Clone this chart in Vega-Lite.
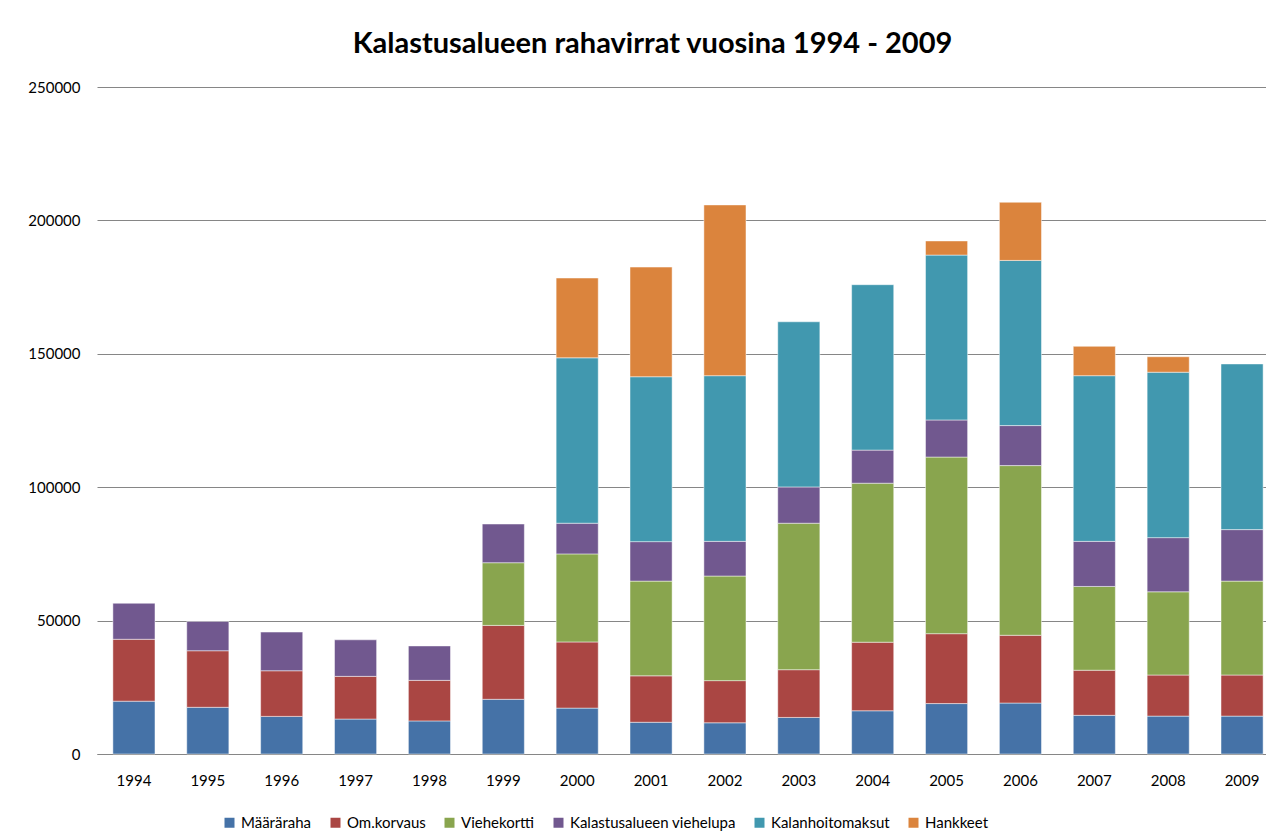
{
  "$schema": "https://vega.github.io/schema/vega-lite/v6.json",
  "autosize": {"type": "none"},
  "padding": {"left": 97, "top": 87, "right": 0, "bottom": 80},
  "width": 1169,
  "height": 667,
  "background": "white",
  "config": {
    "font": "Lato",
    "view": {"stroke": null}
  },
  "title": {
    "text": "Kalastusalueen rahavirrat vuosina 1994 - 2009",
    "fontSize": 29,
    "fontWeight": "bold",
    "font": "Lato",
    "color": "#000000",
    "anchor": "middle",
    "dx": -29,
    "offset": 21
  },
  "data": {
    "values": [
      {"year": "1994", "series": "Määräraha", "n": 1, "value": 19800},
      {"year": "1994", "series": "Om.korvaus", "n": 2, "value": 23200},
      {"year": "1994", "series": "Kalastusalueen viehelupa", "n": 4, "value": 13500},
      {"year": "1995", "series": "Määräraha", "n": 1, "value": 17500},
      {"year": "1995", "series": "Om.korvaus", "n": 2, "value": 21200},
      {"year": "1995", "series": "Kalastusalueen viehelupa", "n": 4, "value": 11000},
      {"year": "1996", "series": "Määräraha", "n": 1, "value": 14100},
      {"year": "1996", "series": "Om.korvaus", "n": 2, "value": 17100},
      {"year": "1996", "series": "Kalastusalueen viehelupa", "n": 4, "value": 14500},
      {"year": "1997", "series": "Määräraha", "n": 1, "value": 13100},
      {"year": "1997", "series": "Om.korvaus", "n": 2, "value": 16000},
      {"year": "1997", "series": "Kalastusalueen viehelupa", "n": 4, "value": 13700},
      {"year": "1998", "series": "Määräraha", "n": 1, "value": 12400},
      {"year": "1998", "series": "Om.korvaus", "n": 2, "value": 15200},
      {"year": "1998", "series": "Kalastusalueen viehelupa", "n": 4, "value": 12900},
      {"year": "1999", "series": "Määräraha", "n": 1, "value": 20500},
      {"year": "1999", "series": "Om.korvaus", "n": 2, "value": 27700},
      {"year": "1999", "series": "Viehekortti", "n": 3, "value": 23500},
      {"year": "1999", "series": "Kalastusalueen viehelupa", "n": 4, "value": 14500},
      {"year": "2000", "series": "Määräraha", "n": 1, "value": 17200},
      {"year": "2000", "series": "Om.korvaus", "n": 2, "value": 24800},
      {"year": "2000", "series": "Viehekortti", "n": 3, "value": 33000},
      {"year": "2000", "series": "Kalastusalueen viehelupa", "n": 4, "value": 11500},
      {"year": "2000", "series": "Kalanhoitomaksut", "n": 5, "value": 62000},
      {"year": "2000", "series": "Hankkeet", "n": 6, "value": 29900},
      {"year": "2001", "series": "Määräraha", "n": 1, "value": 11900},
      {"year": "2001", "series": "Om.korvaus", "n": 2, "value": 17400},
      {"year": "2001", "series": "Viehekortti", "n": 3, "value": 35500},
      {"year": "2001", "series": "Kalastusalueen viehelupa", "n": 4, "value": 14800},
      {"year": "2001", "series": "Kalanhoitomaksut", "n": 5, "value": 61800},
      {"year": "2001", "series": "Hankkeet", "n": 6, "value": 41100},
      {"year": "2002", "series": "Määräraha", "n": 1, "value": 11700},
      {"year": "2002", "series": "Om.korvaus", "n": 2, "value": 15800},
      {"year": "2002", "series": "Viehekortti", "n": 3, "value": 39200},
      {"year": "2002", "series": "Kalastusalueen viehelupa", "n": 4, "value": 13000},
      {"year": "2002", "series": "Kalanhoitomaksut", "n": 5, "value": 62100},
      {"year": "2002", "series": "Hankkeet", "n": 6, "value": 64000},
      {"year": "2003", "series": "Määräraha", "n": 1, "value": 13700},
      {"year": "2003", "series": "Om.korvaus", "n": 2, "value": 17900},
      {"year": "2003", "series": "Viehekortti", "n": 3, "value": 54900},
      {"year": "2003", "series": "Kalastusalueen viehelupa", "n": 4, "value": 13600},
      {"year": "2003", "series": "Kalanhoitomaksut", "n": 5, "value": 61900},
      {"year": "2004", "series": "Määräraha", "n": 1, "value": 16200},
      {"year": "2004", "series": "Om.korvaus", "n": 2, "value": 25700},
      {"year": "2004", "series": "Viehekortti", "n": 3, "value": 59600},
      {"year": "2004", "series": "Kalastusalueen viehelupa", "n": 4, "value": 12400},
      {"year": "2004", "series": "Kalanhoitomaksut", "n": 5, "value": 62000},
      {"year": "2005", "series": "Määräraha", "n": 1, "value": 18900},
      {"year": "2005", "series": "Om.korvaus", "n": 2, "value": 26200},
      {"year": "2005", "series": "Viehekortti", "n": 3, "value": 66200},
      {"year": "2005", "series": "Kalastusalueen viehelupa", "n": 4, "value": 13900},
      {"year": "2005", "series": "Kalanhoitomaksut", "n": 5, "value": 61800},
      {"year": "2005", "series": "Hankkeet", "n": 6, "value": 5300},
      {"year": "2006", "series": "Määräraha", "n": 1, "value": 19100},
      {"year": "2006", "series": "Om.korvaus", "n": 2, "value": 25400},
      {"year": "2006", "series": "Viehekortti", "n": 3, "value": 63600},
      {"year": "2006", "series": "Kalastusalueen viehelupa", "n": 4, "value": 15000},
      {"year": "2006", "series": "Kalanhoitomaksut", "n": 5, "value": 61900},
      {"year": "2006", "series": "Hankkeet", "n": 6, "value": 21800},
      {"year": "2007", "series": "Määräraha", "n": 1, "value": 14500},
      {"year": "2007", "series": "Om.korvaus", "n": 2, "value": 16900},
      {"year": "2007", "series": "Viehekortti", "n": 3, "value": 31400},
      {"year": "2007", "series": "Kalastusalueen viehelupa", "n": 4, "value": 16900},
      {"year": "2007", "series": "Kalanhoitomaksut", "n": 5, "value": 62100},
      {"year": "2007", "series": "Hankkeet", "n": 6, "value": 11000},
      {"year": "2008", "series": "Määräraha", "n": 1, "value": 14200},
      {"year": "2008", "series": "Om.korvaus", "n": 2, "value": 15400},
      {"year": "2008", "series": "Viehekortti", "n": 3, "value": 31200},
      {"year": "2008", "series": "Kalastusalueen viehelupa", "n": 4, "value": 20300},
      {"year": "2008", "series": "Kalanhoitomaksut", "n": 5, "value": 62000},
      {"year": "2008", "series": "Hankkeet", "n": 6, "value": 5800},
      {"year": "2009", "series": "Määräraha", "n": 1, "value": 14200},
      {"year": "2009", "series": "Om.korvaus", "n": 2, "value": 15400},
      {"year": "2009", "series": "Viehekortti", "n": 3, "value": 35200},
      {"year": "2009", "series": "Kalastusalueen viehelupa", "n": 4, "value": 19300},
      {"year": "2009", "series": "Kalanhoitomaksut", "n": 5, "value": 62100}
    ]
  },
  "mark": {"type": "bar", "stroke": "#ffffff", "strokeWidth": 0.8, "strokeOpacity": 0.6},
  "encoding": {
    "x": {
      "field": "year",
      "type": "ordinal",
      "scale": {"range": [0, 1182], "paddingInner": 0.43, "paddingOuter": 0.215},
      "axis": {
        "title": null,
        "labelAngle": 0,
        "ticks": false,
        "domainColor": "#868686",
        "domainWidth": 1.2,
        "labelFontSize": 15,
        "labelColor": "#000000",
        "labelPadding": 19
      }
    },
    "y": {
      "field": "value",
      "type": "quantitative",
      "aggregate": "sum",
      "stack": "zero",
      "scale": {"domain": [0, 250000], "nice": false},
      "axis": {
        "title": null,
        "values": [0, 50000, 100000, 150000, 200000, 250000],
        "format": "d",
        "domain": false,
        "ticks": false,
        "grid": true,
        "gridColor": "#868686",
        "gridWidth": 1.2,
        "labelFontSize": 15,
        "labelColor": "#000000",
        "labelPadding": 17
      }
    },
    "color": {
      "field": "series",
      "type": "nominal",
      "sort": ["Määräraha", "Om.korvaus", "Viehekortti", "Kalastusalueen viehelupa", "Kalanhoitomaksut", "Hankkeet"],
      "scale": {
        "domain": ["Määräraha", "Om.korvaus", "Viehekortti", "Kalastusalueen viehelupa", "Kalanhoitomaksut", "Hankkeet"],
        "range": ["#4572A7", "#AA4643", "#89A54E", "#71588F", "#4198AF", "#DB843D"]
      },
      "legend": {
        "title": null,
        "orient": "none",
        "legendX": 125,
        "legendY": 728,
        "direction": "horizontal",
        "columns": 6,
        "columnPadding": 16,
        "symbolType": "square",
        "symbolSize": 100,
        "symbolStrokeWidth": 0,
        "labelFontSize": 15,
        "labelLimit": 400,
        "labelColor": "#000000",
        "labelOffset": 4
      }
    },
    "order": {"field": "n", "type": "quantitative", "sort": "ascending"}
  }
}
